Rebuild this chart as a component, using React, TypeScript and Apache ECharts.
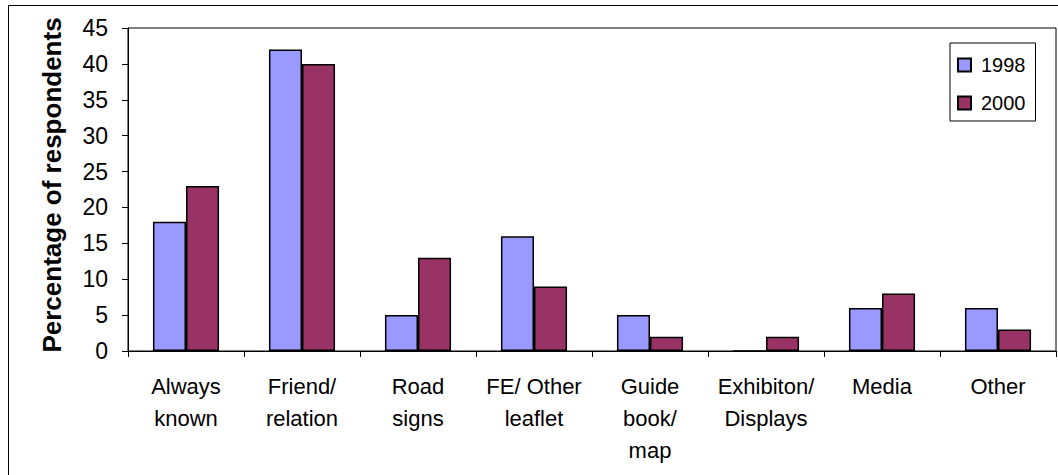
import React, { useEffect, useRef } from "react";
import * as echarts from "echarts";

const categories = [
  "Always\nknown",
  "Friend/\nrelation",
  "Road\nsigns",
  "FE/ Other\nleaflet",
  "Guide\nbook/\nmap",
  "Exhibiton/\nDisplays",
  "Media",
  "Other",
];
const values1998 = [18, 42, 5, 16, 5, 0, 6, 6];
const values2000 = [23, 40, 13, 9, 2, 2, 8, 3];
const seriesNames = ["1998", "2000"];
const yTitle = "Percentage of respondents";

const FONT = "'Liberation Sans', Arial, sans-serif";

export default function App() {
  const ref = useRef<HTMLDivElement>(null);
  useEffect(() => {
    if (!ref.current) return;
    const chart = echarts.init(ref.current, undefined, { renderer: "svg" });
    chart.setOption({
      animation: false,
      backgroundColor: "#ffffff",
      textStyle: { fontFamily: FONT, color: "#000" },
      grid: {
        left: 128,
        top: 28,
        right: 2,
        bottom: 124,
        show: true,
        borderColor: "#000",
        borderWidth: 1,
        backgroundColor: "transparent",
      },
      legend: {
        orient: "vertical",
        left: 950,
        top: 43,
        data: seriesNames,
        icon: "rect",
        itemWidth: 13,
        itemHeight: 13,
        itemGap: 18,
        borderColor: "#000",
        borderWidth: 1,
        padding: [12, 10, 8, 7],
        backgroundColor: "#fff",
        textStyle: {
          fontFamily: FONT,
          fontSize: 20,
          color: "#000",
          lineHeight: 20,
          padding: [0, 0, 0, 5],
        },
      },
      xAxis: {
        type: "category",
        data: categories,
        axisLine: { lineStyle: { color: "#000", width: 1 } },
        axisTick: { show: true, length: 6, interval: 0, alignWithLabel: false, lineStyle: { color: "#000" } },
        axisLabel: {
          interval: 0,
          margin: 19,
          fontFamily: FONT,
          fontSize: 22,
          lineHeight: 32,
          color: "#000",
        },
        splitLine: { show: false },
      },
      yAxis: {
        type: "value",
        min: 0,
        max: 45,
        interval: 5,
        axisLine: { show: true, lineStyle: { color: "#000", width: 1 } },
        axisTick: { show: true, length: 6, lineStyle: { color: "#000" } },
        axisLabel: { margin: 20, fontFamily: FONT, fontSize: 23, color: "#000" },
        splitLine: { show: false },
      },
      graphic: [
        {
          type: "rect",
          shape: { x: 8.5, y: 5.5, width: 1070, height: 490 },
          style: { fill: "none", stroke: "#000", lineWidth: 1 },
          silent: true,
        },
        {
          type: "text",
          x: 52,
          y: 185,
          rotation: Math.PI / 2,
          style: {
            text: yTitle,
            font: `bold 26px ${FONT}`,
            fill: "#000",
            align: "center",
            verticalAlign: "middle",
          },
        },
      ],
      series: [
        {
          name: seriesNames[0],
          type: "bar",
          data: values1998,
          barGap: "0%",
          barCategoryGap: "43%",
          itemStyle: { color: "#9999FF", borderColor: "#000", borderWidth: 1.5 },
        },
        {
          name: seriesNames[1],
          type: "bar",
          data: values2000,
          barGap: "0%",
          barCategoryGap: "43%",
          itemStyle: { color: "#993366", borderColor: "#000", borderWidth: 1.5 },
        },
      ],
    });
    return () => chart.dispose();
  }, []);
  return (
    <div
      ref={ref}
      style={{ position: "fixed", left: 0, top: 0, width: 1058, height: 475 }}
    />
  );
}
